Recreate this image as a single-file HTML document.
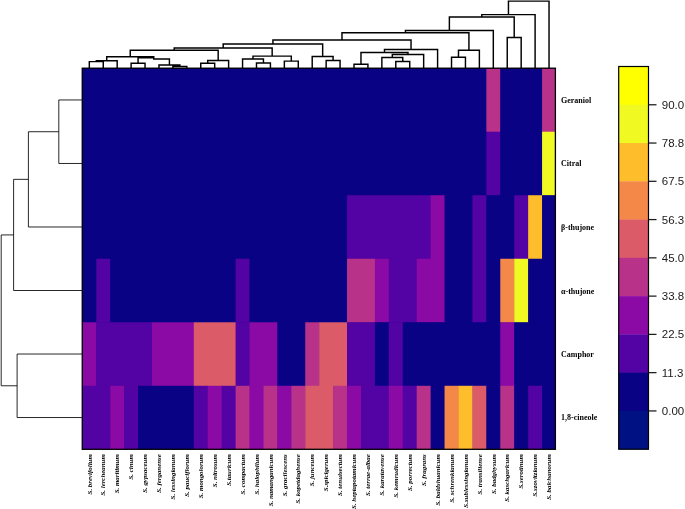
<!DOCTYPE html>
<html><head><meta charset="utf-8"><title>Heatmap</title>
<style>html,body{margin:0;padding:0;background:#fff}svg{display:block}</style>
</head><body>
<svg width="685" height="509" viewBox="0 0 685 509">
<rect width="685" height="509" fill="#fff"/>
<g shape-rendering="crispEdges">
<rect x="82.35" y="68.20" width="473.65" height="381.10" fill="#0a0285"/>
</g>
<rect x="82.35" y="68.20" width="404.40" height="63.92" fill="#0a0285"/>
<rect x="486.35" y="68.20" width="14.33" height="63.92" fill="#b83289"/>
<rect x="500.28" y="68.20" width="42.19" height="63.92" fill="#0a0285"/>
<rect x="542.07" y="68.20" width="13.93" height="63.92" fill="#b83289"/>
<rect x="82.35" y="131.72" width="404.40" height="63.92" fill="#0a0285"/>
<rect x="486.35" y="131.72" width="14.33" height="63.92" fill="#5302a3"/>
<rect x="500.28" y="131.72" width="42.19" height="63.92" fill="#0a0285"/>
<rect x="542.07" y="131.72" width="13.93" height="63.92" fill="#f0f921"/>
<rect x="82.35" y="195.23" width="265.09" height="63.92" fill="#0a0285"/>
<rect x="347.04" y="195.23" width="83.99" height="63.92" fill="#5302a3"/>
<rect x="430.62" y="195.23" width="14.33" height="63.92" fill="#8b0aa5"/>
<rect x="444.55" y="195.23" width="28.26" height="63.92" fill="#0a0285"/>
<rect x="472.41" y="195.23" width="14.33" height="63.92" fill="#5302a3"/>
<rect x="486.35" y="195.23" width="28.26" height="63.92" fill="#0a0285"/>
<rect x="514.21" y="195.23" width="14.33" height="63.92" fill="#5302a3"/>
<rect x="528.14" y="195.23" width="14.33" height="63.92" fill="#febd2a"/>
<rect x="542.07" y="195.23" width="13.93" height="63.92" fill="#0a0285"/>
<rect x="82.35" y="258.75" width="14.33" height="63.92" fill="#0a0285"/>
<rect x="96.28" y="258.75" width="14.33" height="63.92" fill="#5302a3"/>
<rect x="110.21" y="258.75" width="125.78" height="63.92" fill="#0a0285"/>
<rect x="235.59" y="258.75" width="14.33" height="63.92" fill="#5302a3"/>
<rect x="249.52" y="258.75" width="97.92" height="63.92" fill="#0a0285"/>
<rect x="347.04" y="258.75" width="28.26" height="63.92" fill="#b83289"/>
<rect x="374.90" y="258.75" width="14.33" height="63.92" fill="#8b0aa5"/>
<rect x="388.83" y="258.75" width="28.26" height="63.92" fill="#5302a3"/>
<rect x="416.69" y="258.75" width="28.26" height="63.92" fill="#8b0aa5"/>
<rect x="444.55" y="258.75" width="28.26" height="63.92" fill="#0a0285"/>
<rect x="472.41" y="258.75" width="14.33" height="63.92" fill="#5302a3"/>
<rect x="486.35" y="258.75" width="14.33" height="63.92" fill="#0a0285"/>
<rect x="500.28" y="258.75" width="14.33" height="63.92" fill="#f48849"/>
<rect x="514.21" y="258.75" width="14.33" height="63.92" fill="#f0f921"/>
<rect x="528.14" y="258.75" width="27.86" height="63.92" fill="#0a0285"/>
<rect x="82.35" y="322.27" width="14.33" height="63.92" fill="#8b0aa5"/>
<rect x="96.28" y="322.27" width="56.12" height="63.92" fill="#5302a3"/>
<rect x="152.00" y="322.27" width="42.19" height="63.92" fill="#8b0aa5"/>
<rect x="193.80" y="322.27" width="42.19" height="63.92" fill="#db5c68"/>
<rect x="235.59" y="322.27" width="14.33" height="63.92" fill="#5302a3"/>
<rect x="249.52" y="322.27" width="28.26" height="63.92" fill="#8b0aa5"/>
<rect x="277.38" y="322.27" width="28.26" height="63.92" fill="#0a0285"/>
<rect x="305.24" y="322.27" width="14.33" height="63.92" fill="#b83289"/>
<rect x="319.17" y="322.27" width="28.26" height="63.92" fill="#db5c68"/>
<rect x="347.04" y="322.27" width="28.26" height="63.92" fill="#5302a3"/>
<rect x="374.90" y="322.27" width="14.33" height="63.92" fill="#0a0285"/>
<rect x="388.83" y="322.27" width="14.33" height="63.92" fill="#5302a3"/>
<rect x="402.76" y="322.27" width="97.92" height="63.92" fill="#0a0285"/>
<rect x="500.28" y="322.27" width="14.33" height="63.92" fill="#8b0aa5"/>
<rect x="514.21" y="322.27" width="41.79" height="63.92" fill="#0a0285"/>
<rect x="82.35" y="385.78" width="28.26" height="63.52" fill="#5302a3"/>
<rect x="110.21" y="385.78" width="14.33" height="63.52" fill="#8b0aa5"/>
<rect x="124.14" y="385.78" width="14.33" height="63.52" fill="#5302a3"/>
<rect x="138.07" y="385.78" width="56.12" height="63.52" fill="#0a0285"/>
<rect x="193.80" y="385.78" width="14.33" height="63.52" fill="#5302a3"/>
<rect x="207.73" y="385.78" width="14.33" height="63.52" fill="#8b0aa5"/>
<rect x="221.66" y="385.78" width="14.33" height="63.52" fill="#5302a3"/>
<rect x="235.59" y="385.78" width="14.33" height="63.52" fill="#b83289"/>
<rect x="249.52" y="385.78" width="14.33" height="63.52" fill="#8b0aa5"/>
<rect x="263.45" y="385.78" width="14.33" height="63.52" fill="#b83289"/>
<rect x="277.38" y="385.78" width="14.33" height="63.52" fill="#8b0aa5"/>
<rect x="291.31" y="385.78" width="14.33" height="63.52" fill="#b83289"/>
<rect x="305.24" y="385.78" width="28.26" height="63.52" fill="#db5c68"/>
<rect x="333.11" y="385.78" width="14.33" height="63.52" fill="#b83289"/>
<rect x="347.04" y="385.78" width="14.33" height="63.52" fill="#8b0aa5"/>
<rect x="360.97" y="385.78" width="28.26" height="63.52" fill="#5302a3"/>
<rect x="388.83" y="385.78" width="14.33" height="63.52" fill="#8b0aa5"/>
<rect x="402.76" y="385.78" width="14.33" height="63.52" fill="#5302a3"/>
<rect x="416.69" y="385.78" width="14.33" height="63.52" fill="#b83289"/>
<rect x="430.62" y="385.78" width="14.33" height="63.52" fill="#0a0285"/>
<rect x="444.55" y="385.78" width="14.33" height="63.52" fill="#f48849"/>
<rect x="458.48" y="385.78" width="14.33" height="63.52" fill="#febd2a"/>
<rect x="472.41" y="385.78" width="14.33" height="63.52" fill="#db5c68"/>
<rect x="486.35" y="385.78" width="14.33" height="63.52" fill="#0a0285"/>
<rect x="500.28" y="385.78" width="14.33" height="63.52" fill="#b83289"/>
<rect x="514.21" y="385.78" width="14.33" height="63.52" fill="#0a0285"/>
<rect x="528.14" y="385.78" width="14.33" height="63.52" fill="#5302a3"/>
<rect x="542.07" y="385.78" width="13.93" height="63.52" fill="#0a0285"/>
<rect x="82.25" y="68.20" width="473.15" height="381.10" fill="none" stroke="#000" stroke-width="1.3"/>
<path d="M89.32 68.20V61.60H103.25V68.20M96.28 61.60V60.80H117.18V68.20M131.11 68.20V63.20H145.04V68.20M172.90 68.20V66.40H186.83V68.20M158.97 68.20V65.00H179.87V66.40M138.07 63.20V57.8H153.75V58.9H169.42V65.00M106.73 60.80V56.70H153.75V58.50M200.76 68.20V63.30H214.69V68.20M207.73 63.30V60.50H228.62V68.20M130.24 56.70V50.30H218.18V60.50M256.49 68.20V63.00H270.42V68.20M242.56 68.20V58.90H263.45V63.00M284.35 68.20V61.10H298.28V68.20M253.00 58.90V56.10H291.31V61.10M174.21 50.30V48.00H272.16V56.10M326.14 68.20V60.40H340.07V68.20M312.21 68.20V56.40H333.11V60.40M223.18 48.00V44.00H322.66V56.40M354.00 68.20V64.20H367.93V68.20M395.79 68.20V61.40H409.73V68.20M381.86 68.20V57.40H402.76V61.40M392.31 57.40V54.50H423.66V68.20M360.97 64.20V52.40H407.98V54.50M384.48 52.40V49.50H437.59V68.20M272.92 44.00V39.90H411.03V49.50M451.52 68.20V57.30H465.45V68.20M458.48 57.30V50.20H479.38V68.20M341.98 39.90V32.70H468.93V50.20M405.45 32.70V30.50H493.31V68.20M507.24 68.20V37.50H521.17V68.20M449.38 30.50V16.90H514.21V37.50M481.79 16.90V14.60H535.10V68.20M508.45 14.60V1.10H549.03V68.20" fill="none" stroke="#000" stroke-width="1.45" stroke-linejoin="miter"/>
<path d="M82.35 99.96H58.80V163.48H82.35M58.80 131.72H28.40V226.99H82.35M28.40 179.35H13.60V290.51H82.35M82.35 354.03H17.10V417.54H82.35M13.60 234.93H1.20V385.78H17.10" fill="none" stroke="#000" stroke-width="0.85"/>
<text x="561" y="102.96" font-family="'Liberation Serif', serif" font-weight="bold" font-size="8" fill="#000">Geraniol</text>
<text x="561" y="166.48" font-family="'Liberation Serif', serif" font-weight="bold" font-size="8" fill="#000">Citral</text>
<text x="561" y="229.99" font-family="'Liberation Serif', serif" font-weight="bold" font-size="8" fill="#000">β-thujone</text>
<text x="561" y="293.51" font-family="'Liberation Serif', serif" font-weight="bold" font-size="8" fill="#000">α-thujone</text>
<text x="561" y="357.03" font-family="'Liberation Serif', serif" font-weight="bold" font-size="8" fill="#000">Camphor</text>
<text x="561" y="419.84" font-family="'Liberation Serif', serif" font-weight="bold" font-size="8" fill="#000">1,8-cineole</text>
<text transform="translate(91.52 454.2) rotate(-90)" text-anchor="end" font-family="'Liberation Serif', serif" font-weight="bold" font-style="italic" font-size="6.9" fill="#000">S. brevifolium</text>
<text transform="translate(105.45 454.2) rotate(-90)" text-anchor="end" font-family="'Liberation Serif', serif" font-weight="bold" font-style="italic" font-size="6.9" fill="#000">S. lercheanum</text>
<text transform="translate(119.38 454.2) rotate(-90)" text-anchor="end" font-family="'Liberation Serif', serif" font-weight="bold" font-style="italic" font-size="6.9" fill="#000">S. maritimum</text>
<text transform="translate(133.31 454.2) rotate(-90)" text-anchor="end" font-family="'Liberation Serif', serif" font-weight="bold" font-style="italic" font-size="6.9" fill="#000">S. cinum</text>
<text transform="translate(147.24 454.2) rotate(-90)" text-anchor="end" font-family="'Liberation Serif', serif" font-weight="bold" font-style="italic" font-size="6.9" fill="#000">S. gypsaceum</text>
<text transform="translate(161.17 454.2) rotate(-90)" text-anchor="end" font-family="'Liberation Serif', serif" font-weight="bold" font-style="italic" font-size="6.9" fill="#000">S. ferganense</text>
<text transform="translate(175.10 454.2) rotate(-90)" text-anchor="end" font-family="'Liberation Serif', serif" font-weight="bold" font-style="italic" font-size="6.9" fill="#000">S. lessingianum</text>
<text transform="translate(189.03 454.2) rotate(-90)" text-anchor="end" font-family="'Liberation Serif', serif" font-weight="bold" font-style="italic" font-size="6.9" fill="#000">S. pauciflorum</text>
<text transform="translate(202.96 454.2) rotate(-90)" text-anchor="end" font-family="'Liberation Serif', serif" font-weight="bold" font-style="italic" font-size="6.9" fill="#000">S. mongolorum</text>
<text transform="translate(216.89 454.2) rotate(-90)" text-anchor="end" font-family="'Liberation Serif', serif" font-weight="bold" font-style="italic" font-size="6.9" fill="#000">S. nitrosum</text>
<text transform="translate(230.82 454.2) rotate(-90)" text-anchor="end" font-family="'Liberation Serif', serif" font-weight="bold" font-style="italic" font-size="6.9" fill="#000">S.tauricum</text>
<text transform="translate(244.76 454.2) rotate(-90)" text-anchor="end" font-family="'Liberation Serif', serif" font-weight="bold" font-style="italic" font-size="6.9" fill="#000">S. compactum</text>
<text transform="translate(258.69 454.2) rotate(-90)" text-anchor="end" font-family="'Liberation Serif', serif" font-weight="bold" font-style="italic" font-size="6.9" fill="#000">S. halophilum</text>
<text transform="translate(272.62 454.2) rotate(-90)" text-anchor="end" font-family="'Liberation Serif', serif" font-weight="bold" font-style="italic" font-size="6.9" fill="#000">S. namanganicum</text>
<text transform="translate(286.55 454.2) rotate(-90)" text-anchor="end" font-family="'Liberation Serif', serif" font-weight="bold" font-style="italic" font-size="6.9" fill="#000">S. gracilescens</text>
<text transform="translate(300.48 454.2) rotate(-90)" text-anchor="end" font-family="'Liberation Serif', serif" font-weight="bold" font-style="italic" font-size="6.9" fill="#000">S. kopetdaghense</text>
<text transform="translate(314.41 454.2) rotate(-90)" text-anchor="end" font-family="'Liberation Serif', serif" font-weight="bold" font-style="italic" font-size="6.9" fill="#000">S. junceum</text>
<text transform="translate(328.34 454.2) rotate(-90)" text-anchor="end" font-family="'Liberation Serif', serif" font-weight="bold" font-style="italic" font-size="6.9" fill="#000">S.spicigerum</text>
<text transform="translate(342.27 454.2) rotate(-90)" text-anchor="end" font-family="'Liberation Serif', serif" font-weight="bold" font-style="italic" font-size="6.9" fill="#000">S. tenuisectum</text>
<text transform="translate(356.20 454.2) rotate(-90)" text-anchor="end" font-family="'Liberation Serif', serif" font-weight="bold" font-style="italic" font-size="6.9" fill="#000">S. heptapotamicum</text>
<text transform="translate(370.13 454.2) rotate(-90)" text-anchor="end" font-family="'Liberation Serif', serif" font-weight="bold" font-style="italic" font-size="6.9" fill="#000">S. terrae-albae</text>
<text transform="translate(384.06 454.2) rotate(-90)" text-anchor="end" font-family="'Liberation Serif', serif" font-weight="bold" font-style="italic" font-size="6.9" fill="#000">S. karatavense</text>
<text transform="translate(397.99 454.2) rotate(-90)" text-anchor="end" font-family="'Liberation Serif', serif" font-weight="bold" font-style="italic" font-size="6.9" fill="#000">S. kemrudicum</text>
<text transform="translate(411.93 454.2) rotate(-90)" text-anchor="end" font-family="'Liberation Serif', serif" font-weight="bold" font-style="italic" font-size="6.9" fill="#000">S. porrectum</text>
<text transform="translate(425.86 454.2) rotate(-90)" text-anchor="end" font-family="'Liberation Serif', serif" font-weight="bold" font-style="italic" font-size="6.9" fill="#000">S. fragrans</text>
<text transform="translate(439.79 454.2) rotate(-90)" text-anchor="end" font-family="'Liberation Serif', serif" font-weight="bold" font-style="italic" font-size="6.9" fill="#000">S. baldshuanicum</text>
<text transform="translate(453.72 454.2) rotate(-90)" text-anchor="end" font-family="'Liberation Serif', serif" font-weight="bold" font-style="italic" font-size="6.9" fill="#000">S. schrenkianum</text>
<text transform="translate(467.65 454.2) rotate(-90)" text-anchor="end" font-family="'Liberation Serif', serif" font-weight="bold" font-style="italic" font-size="6.9" fill="#000">S.sublessingianum</text>
<text transform="translate(481.58 454.2) rotate(-90)" text-anchor="end" font-family="'Liberation Serif', serif" font-weight="bold" font-style="italic" font-size="6.9" fill="#000">S. transiliense</text>
<text transform="translate(495.51 454.2) rotate(-90)" text-anchor="end" font-family="'Liberation Serif', serif" font-weight="bold" font-style="italic" font-size="6.9" fill="#000">S. badghysum</text>
<text transform="translate(509.44 454.2) rotate(-90)" text-anchor="end" font-family="'Liberation Serif', serif" font-weight="bold" font-style="italic" font-size="6.9" fill="#000">S. kaschgaricum</text>
<text transform="translate(523.37 454.2) rotate(-90)" text-anchor="end" font-family="'Liberation Serif', serif" font-weight="bold" font-style="italic" font-size="6.9" fill="#000">S.serotinum</text>
<text transform="translate(537.30 454.2) rotate(-90)" text-anchor="end" font-family="'Liberation Serif', serif" font-weight="bold" font-style="italic" font-size="6.9" fill="#000">S.szovitzianum</text>
<text transform="translate(551.23 454.2) rotate(-90)" text-anchor="end" font-family="'Liberation Serif', serif" font-weight="bold" font-style="italic" font-size="6.9" fill="#000">S. balchanorum</text>
<rect x="618.70" y="66.50" width="29.80" height="38.57" fill="#ffff00"/>
<rect x="618.70" y="104.77" width="29.80" height="38.57" fill="#f0f921"/>
<rect x="618.70" y="143.04" width="29.80" height="38.57" fill="#febd2a"/>
<rect x="618.70" y="181.31" width="29.80" height="38.57" fill="#f48849"/>
<rect x="618.70" y="219.58" width="29.80" height="38.57" fill="#db5c68"/>
<rect x="618.70" y="257.85" width="29.80" height="38.57" fill="#b83289"/>
<rect x="618.70" y="296.12" width="29.80" height="38.57" fill="#8b0aa5"/>
<rect x="618.70" y="334.39" width="29.80" height="38.57" fill="#5302a3"/>
<rect x="618.70" y="372.66" width="29.80" height="38.57" fill="#0a0285"/>
<rect x="618.70" y="410.93" width="29.80" height="38.57" fill="#001283"/>
<rect x="618.70" y="66.50" width="29.80" height="382.70" fill="none" stroke="#000" stroke-width="1.2"/>
<path d="M648.50 104.77H656.50" stroke="#1a1a1a" stroke-width="1.25"/>
<text x="661.8" y="108.87" font-family="'Liberation Sans', sans-serif" font-size="11.5" fill="#1a1a1a">90.0</text>
<path d="M648.50 143.04H656.50" stroke="#1a1a1a" stroke-width="1.25"/>
<text x="661.8" y="147.14" font-family="'Liberation Sans', sans-serif" font-size="11.5" fill="#1a1a1a">78.8</text>
<path d="M648.50 181.31H656.50" stroke="#1a1a1a" stroke-width="1.25"/>
<text x="661.8" y="185.41" font-family="'Liberation Sans', sans-serif" font-size="11.5" fill="#1a1a1a">67.5</text>
<path d="M648.50 219.58H656.50" stroke="#1a1a1a" stroke-width="1.25"/>
<text x="661.8" y="223.68" font-family="'Liberation Sans', sans-serif" font-size="11.5" fill="#1a1a1a">56.3</text>
<path d="M648.50 257.85H656.50" stroke="#1a1a1a" stroke-width="1.25"/>
<text x="661.8" y="261.95" font-family="'Liberation Sans', sans-serif" font-size="11.5" fill="#1a1a1a">45.0</text>
<path d="M648.50 296.12H656.50" stroke="#1a1a1a" stroke-width="1.25"/>
<text x="661.8" y="300.22" font-family="'Liberation Sans', sans-serif" font-size="11.5" fill="#1a1a1a">33.8</text>
<path d="M648.50 334.39H656.50" stroke="#1a1a1a" stroke-width="1.25"/>
<text x="661.8" y="338.49" font-family="'Liberation Sans', sans-serif" font-size="11.5" fill="#1a1a1a">22.5</text>
<path d="M648.50 372.66H656.50" stroke="#1a1a1a" stroke-width="1.25"/>
<text x="661.8" y="376.76" font-family="'Liberation Sans', sans-serif" font-size="11.5" fill="#1a1a1a">11.3</text>
<path d="M648.50 410.93H656.50" stroke="#1a1a1a" stroke-width="1.25"/>
<text x="661.8" y="415.03" font-family="'Liberation Sans', sans-serif" font-size="11.5" fill="#1a1a1a">0.00</text>
</svg>
</body></html>
